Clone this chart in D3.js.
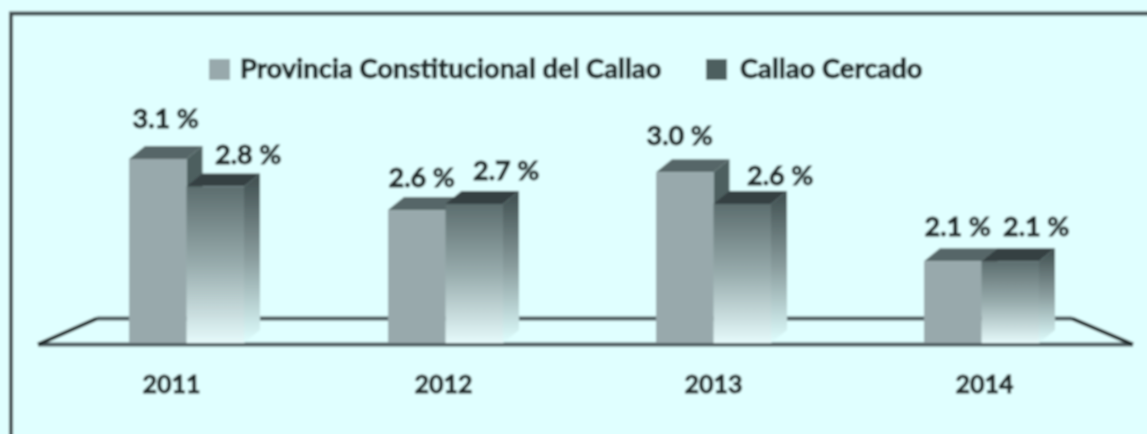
<!DOCTYPE html>
<html>
<head>
<meta charset="utf-8">
<script src="https://cdn.jsdelivr.net/npm/d3@7"></script>
<style>
  html, body { margin: 0; padding: 0; background: #e0ffff; }
  svg { display: block; }
  text { font-family: Lato, "Open Sans", sans-serif; font-weight: 700; fill: #1c2626; stroke: #1c2626; stroke-width: 0.9px; }
</style>
</head>
<body>
<div id="chart"></div>
<script>
;(function(window, document, d3) {

    'use strict';

    var categories = ['2011', '2012', '2013', '2014'];
    var series_names = ['Provincia Constitucional del Callao', 'Callao Cercado'];
    var provincia_values = [3.1, 2.6, 2.97, 2.1];
    var cercado_values = [2.83, 2.66, 2.66, 2.1];
    var provincia_labels = ['3.1 %', '2.6 %', '3.0 %', '2.1 %'];
    var cercado_labels = ['2.8 %', '2.7 %', '2.6 %', '2.1 %'];

    var width = 1147, height = 434,
    base_y = 343,
    depth_x = 16,
    depth_y = 13,
    group_width = 115;

    var svg = d3.select('#chart').append('svg')
        .attr('width', width)
        .attr('height', height);

    var defs = svg.append('defs');

    // the reference is a soft scan, a small blur gets the edges closer
    defs.append('filter').attr('id', 'soft')
        .append('feGaussianBlur').attr('stdDeviation', 0.9);

    function fade(id, stops) {
        var grad = defs.append('linearGradient').attr('id', id)
            .attr('x1', 0).attr('y1', 0).attr('x2', 0).attr('y2', 1);
        stops.forEach(function(s, i) {
            grad.append('stop').attr('offset', i / (stops.length - 1)).attr('stop-color', s);
        });
    }
    fade('cercado-front', ['#5c6d6e', '#98acad', '#e6fafb']);
    fade('cercado-side', ['#3e4d4e', '#8a9d9e', '#e0ffff']);

    var root = svg.append('g').attr('filter', 'url(#soft)');

    root.append('rect')
        .attr('x', -5).attr('y', -5)
        .attr('width', width + 10).attr('height', height + 10)
        .attr('fill', '#e0ffff');

    // frame only shows on the top and left, the rest runs off the picture
    root.append('path')
        .attr('d', 'M11,' + (height + 5) + 'V13.5H' + (width + 5))
        .attr('fill', 'none').attr('stroke', '#3c4a4c').attr('stroke-width', 4);

    /** ================ SCALES ================ */
    // the groups are not evenly spaced in the original, so an ordinal scale and not a band one
    var x0 = d3.scaleOrdinal()
        .domain(categories)
        .range([129, 388, 656, 924]);

    var x1 = d3.scaleBand()
        .domain(series_names)
        .range([0, group_width]);

    var y = d3.scaleLinear()
        .domain([1.3, 3.1])
        .range([base_y, 159]);

    /** ================ FLOOR ================ */
    root.append('path')
        .attr('d', 'M38,344.5H1133M1072,318.5H97')
        .attr('fill', 'none')
        .attr('stroke', '#465558')
        .attr('stroke-width', 4);

    root.append('path')
        .attr('d', 'M38,344.5L97,318.5M1133,344.5L1072,318.5')
        .attr('fill', 'none')
        .attr('stroke', '#1c2626')
        .attr('stroke-width', 4);

    /** ================ BARS ================ */
    function draw_bars(name, values, colors) {
        var g = root.append('g').attr('class', 'series');
        var bw = x1.bandwidth();

        var bars = g.selectAll('g.bar')
            .data(categories)
            .enter().append('g')
            .attr('class', 'bar')
            .attr('transform', function(d) { return 'translate(' + (x0(d) + x1(name)) + ',0)'; });

        // side face
        bars.append('path')
            .attr('d', function(d, i) {
                var top = y(values[i]);
                return 'M' + bw + ',' + top + 'l' + depth_x + ',' + (-depth_y) +
                    'V' + (base_y - depth_y) + 'l' + (-depth_x) + ',' + depth_y + 'Z';
            })
            .attr('fill', colors.side);

        // top face
        bars.append('path')
            .attr('d', function(d, i) {
                var top = y(values[i]);
                return 'M0,' + top + 'l' + depth_x + ',' + (-depth_y) + 'h' + bw +
                    'l' + (-depth_x) + ',' + depth_y + 'Z';
            })
            .attr('fill', colors.top);

        // front face
        bars.append('rect')
            .attr('y', function(d, i) { return y(values[i]); })
            .attr('width', bw)
            .attr('height', function(d, i) { return base_y - y(values[i]); })
            .attr('fill', colors.front);
    }

    draw_bars(series_names[0], provincia_values, { front: '#98a9ac', side: '#4e5e5f', top: '#566667' });
    draw_bars(series_names[1], cercado_values, { front: 'url(#cercado-front)', side: 'url(#cercado-side)', top: '#344142' });

    /** ================ LABELS ================ */
    // hand placed in the original, so each label gets its own nudge from the bar centre
    var provincia_nudge = [[8, -6], [5, 2], [-5, -2], [5, 0]];
    var cercado_nudge = [[33, 2], [32, 1], [38, 6], [26, 0]];

    function draw_labels(name, values, labels, nudge) {
        root.append('g').selectAll('text')
            .data(labels)
            .enter().append('text')
            .attr('x', function(d, i) { return x0(categories[i]) + x1(name) + x1.bandwidth() / 2 + nudge[i][0]; })
            .attr('y', function(d, i) { return y(values[i]) - depth_y - 12 + nudge[i][1]; })
            .attr('text-anchor', 'middle')
            .attr('font-size', 27)
            .text(function(d) { return d; });
    }

    draw_labels(series_names[0], provincia_values, provincia_labels, provincia_nudge);
    draw_labels(series_names[1], cercado_values, cercado_labels, cercado_nudge);

    /** ================ AXIS ================ */
    var tick_nudge = [-15, -2, 0, 3];

    root.append('g').selectAll('text')
        .data(categories)
        .enter().append('text')
        .attr('x', function(d, i) { return x0(d) + group_width / 2 + tick_nudge[i]; })
        .attr('y', 393)
        .attr('text-anchor', 'middle')
        .attr('font-size', 25)
        .text(function(d) { return d; });

    /** ================ LEGEND ================ */
    var legend_x = [209, 706];
    var legend_colors = ['#98a9ac', '#4e5e5f'];

    var legend = root.append('g').selectAll('g')
        .data(series_names)
        .enter().append('g')
        .attr('transform', function(d, i) { return 'translate(' + legend_x[i] + ',59)'; });

    legend.append('rect')
        .attr('width', 21).attr('height', 21)
        .attr('fill', function(d, i) { return legend_colors[i]; });

    legend.append('text')
        .attr('x', function(d, i) { return i ? 34 : 31; })
        .attr('y', 19)
        .attr('font-size', 27.4)
        .text(function(d) { return d; });

}(window, document, window.d3));
</script>
</body>
</html>
